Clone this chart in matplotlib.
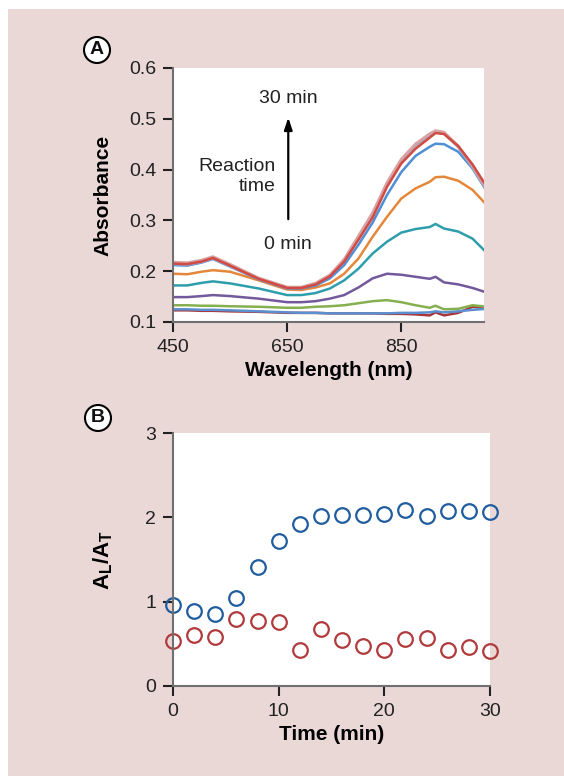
import matplotlib
matplotlib.use('Agg')
import matplotlib.pyplot as plt
from matplotlib.patches import Rectangle, Circle

plt.rcParams['font.family'] = ['Liberation Sans', 'DejaVu Sans']
plt.rcParams['mathtext.fontset'] = 'custom'
plt.rcParams['mathtext.bf'] = 'Liberation Sans:bold'
plt.rcParams['mathtext.rm'] = 'Liberation Sans'

# ---- panel A: spectra ----
wl = [450, 475, 500, 520, 550, 600, 650, 675, 700, 725, 750, 775, 800, 825,
      850, 875, 900, 910, 925, 950, 975, 1000]

spec_darkred = [0.123, 0.123, 0.122, 0.122, 0.121, 0.120, 0.118, 0.118, 0.118, 0.117, 0.117, 0.117, 0.117, 0.116,
                0.116, 0.115, 0.113, 0.119, 0.113, 0.118, 0.130, 0.128]
spec_blue0 = [0.125, 0.125, 0.124, 0.124, 0.123, 0.121, 0.119, 0.118, 0.118, 0.117, 0.117, 0.117, 0.117, 0.117,
              0.118, 0.118, 0.119, 0.121, 0.119, 0.121, 0.124, 0.126]
spec_green = [0.133, 0.133, 0.132, 0.132, 0.131, 0.130, 0.128, 0.128, 0.130, 0.131, 0.133, 0.137, 0.141, 0.143,
              0.139, 0.133, 0.128, 0.132, 0.125, 0.126, 0.133, 0.130]
spec_purple = [0.149, 0.149, 0.151, 0.153, 0.151, 0.146, 0.139, 0.139, 0.141, 0.146, 0.153, 0.168, 0.186, 0.195,
               0.193, 0.189, 0.185, 0.189, 0.178, 0.174, 0.167, 0.158]
spec_teal = [0.172, 0.172, 0.177, 0.180, 0.176, 0.166, 0.153, 0.153, 0.157, 0.166, 0.182, 0.205, 0.235, 0.258,
             0.276, 0.283, 0.287, 0.293, 0.284, 0.278, 0.264, 0.236]
spec_orange = [0.195, 0.194, 0.199, 0.202, 0.199, 0.182, 0.164, 0.163, 0.168, 0.176, 0.195, 0.225, 0.268, 0.307,
               0.343, 0.363, 0.376, 0.385, 0.386, 0.378, 0.360, 0.330]
spec_blue = [0.212, 0.211, 0.217, 0.224, 0.209, 0.184, 0.166, 0.166, 0.172, 0.186, 0.212, 0.252, 0.296, 0.350,
             0.395, 0.427, 0.445, 0.451, 0.450, 0.435, 0.402, 0.357]
spec_red = [0.215, 0.214, 0.219, 0.226, 0.211, 0.185, 0.167, 0.167, 0.174, 0.190, 0.219, 0.262, 0.306, 0.366,
            0.412, 0.441, 0.463, 0.472, 0.470, 0.446, 0.410, 0.366]
spec_gray = [0.216, 0.215, 0.220, 0.227, 0.212, 0.186, 0.168, 0.168, 0.176, 0.192, 0.222, 0.268, 0.314, 0.373,
             0.419, 0.449, 0.470, 0.475, 0.472, 0.445, 0.406, 0.360]
spec_pink = [0.218, 0.217, 0.222, 0.229, 0.214, 0.187, 0.169, 0.169, 0.177, 0.193, 0.224, 0.270, 0.316, 0.375,
             0.421, 0.451, 0.471, 0.477, 0.474, 0.447, 0.408, 0.362]
spec_lav = [0.214, 0.213, 0.218, 0.225, 0.210, 0.185, 0.167, 0.167, 0.175, 0.191, 0.221, 0.266, 0.312, 0.371,
            0.417, 0.447, 0.468, 0.473, 0.471, 0.444, 0.404, 0.358]

spectra = [spec_darkred, spec_blue0, spec_green, spec_purple, spec_teal, spec_orange,
           spec_blue, spec_lav, spec_gray, spec_pink, spec_red]
colors = ['#a8363a', '#5b8fcf', '#86b050', '#74589c', '#2e9eac', '#e5873a',
          '#4f8fd6', '#a9a6c9', '#a9a9ae', '#d9a3a3', '#d24a44']

# ---- panel B: A_L/A_T vs time ----
t = [0, 2, 4, 6, 8, 10, 12, 14, 16, 18, 20, 22, 24, 26, 28, 30]
ratio_blue = [0.96, 0.89, 0.85, 1.04, 1.41, 1.72, 1.92, 2.02, 2.03, 2.03, 2.04, 2.09, 2.01, 2.08, 2.07, 2.06]
ratio_red = [0.53, 0.61, 0.58, 0.79, 0.77, 0.76, 0.43, 0.67, 0.54, 0.47, 0.43, 0.56, 0.57, 0.43, 0.46, 0.42]

pink = '#ead8d7'
W, H = 564, 776
fig = plt.figure(figsize=(W / 100, H / 100), dpi=100, facecolor=pink)
# white strip at top and left
fig.patches.append(Rectangle((0, 1 - 9 / H), 1, 9 / H, transform=fig.transFigure,
                             facecolor='white', edgecolor='none'))
fig.patches.append(Rectangle((0, 0), 8 / W, 1, transform=fig.transFigure,
                             facecolor='white', edgecolor='none'))

def style(ax):
    ax.set_facecolor('white')
    for s in ['top', 'right']:
        ax.spines[s].set_visible(False)
    for s in ['left', 'bottom']:
        ax.spines[s].set_color('#707070')
        ax.spines[s].set_linewidth(1.5)
    ax.tick_params(direction='out', length=7, width=1.5, color='#222222',
                   labelsize=14, labelcolor='#222222', pad=5)

axA = fig.add_axes([173 / W, (H - 322) / H, 311 / W, 254 / H])
style(axA)
for y, c in zip(spectra, colors):
    axA.plot(wl, y, color=c, lw=1.8)
axA.set_xlim(450, 995)
axA.set_ylim(0.1, 0.6)
axA.set_xticks([450, 650, 850])
axA.set_yticks([0.1, 0.2, 0.3, 0.4, 0.5, 0.6])
axA.set_xlabel('Wavelength (nm)', fontsize=15, fontweight='bold', labelpad=4)
axA.set_ylabel('Absorbance', fontsize=15, fontweight='bold', labelpad=12)

axA.annotate('', xy=(652, 0.508), xytext=(652, 0.297),
             arrowprops=dict(arrowstyle='-|>,head_length=0.6,head_width=0.2',
                             color='black', lw=1.6, mutation_scale=12))
axA.text(652, 0.540, '30 min', ha='center', va='center', fontsize=14, color='#222222')
axA.text(652, 0.252, '0 min', ha='center', va='center', fontsize=14, color='#222222')
axA.text(630, 0.387, 'Reaction\ntime', ha='right', va='center', fontsize=14,
         color='#222222', linespacing=1.25, multialignment='right')

axB = fig.add_axes([173 / W, (H - 686) / H, 317 / W, 253 / H])
style(axB)
axB.plot(t, ratio_blue, 'o', mfc='none', mec='#1f5d9e', ms=10.5, mew=1.6, clip_on=False)
axB.plot(t, ratio_red, 'o', mfc='none', mec='#b03a3c', ms=10.5, mew=1.6, clip_on=False)
axB.set_xlim(0, 30)
axB.set_ylim(0, 3)
axB.set_xticks([0, 10, 20, 30])
axB.set_yticks([0, 1, 2, 3])
axB.set_xlabel('Time (min)', fontsize=15, fontweight='bold', labelpad=4)
axB.set_ylabel(r'$\mathbf{A_L/A_T}$', fontsize=16, labelpad=22)

# circled panel letters
for (px, py, lab) in [(97, 50, 'A'), (98, 418, 'B')]:
    fig.patches.append(Circle((px, H - py), 13, transform=None, facecolor='white',
                              edgecolor='black', lw=1.5))
    fig.text(px / W, (H - py) / H, lab, ha='center', va='center', fontsize=14,
             fontweight='bold', color='#111111')

fig.savefig('out.png', dpi=100, facecolor=pink)
